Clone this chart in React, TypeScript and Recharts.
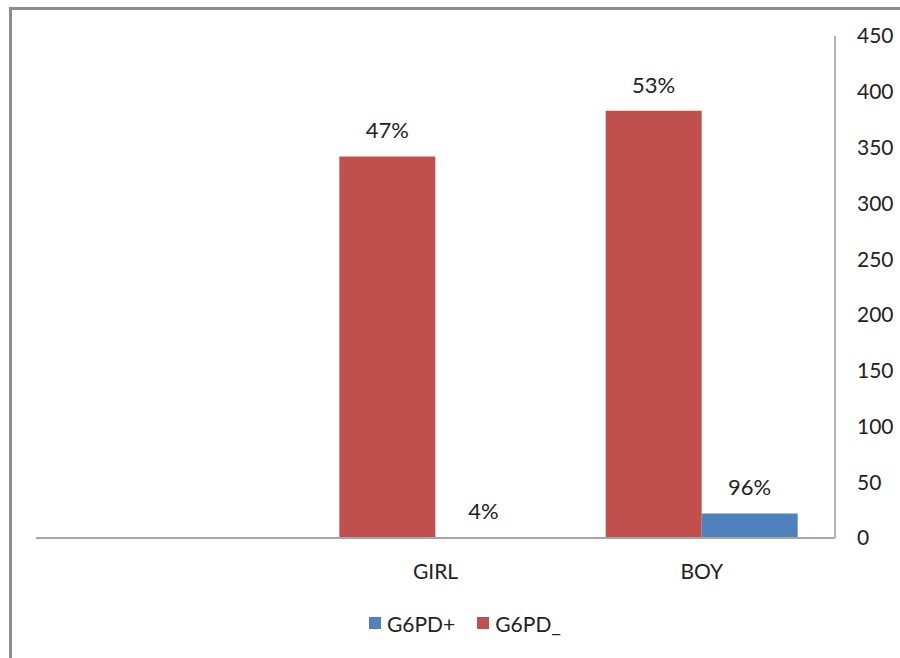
import { BarChart, Bar, XAxis, YAxis, Legend, LabelList } from 'recharts';

const categories = ['', 'GIRL', 'BOY'];
const positive = [null, 1, 22];
const negative = [null, 342, 383];
const positiveLabels = ['', '4%', '96%'];
const negativeLabels = ['', '47%', '53%'];
const yTicks = [0, 50, 100, 150, 200, 250, 300, 350, 400, 450];

const RED = '#c0504d';
const BLUE = '#4f81bd';
const FONT = 'Lato, "Open Sans", sans-serif';

const data = categories.map((name, i) => ({
  name,
  pos: positive[i],
  neg: negative[i],
  posLabel: positiveLabels[i],
  negLabel: negativeLabels[i],
}));

const legendItems = [
  { name: 'G6PD+', color: BLUE },
  { name: 'G6PD_', color: RED },
];

function LegendBox() {
  return (
    <div style={{ display: 'flex', justifyContent: 'center', height: 30, alignItems: 'center', fontFamily: FONT, fontSize: 21, color: '#222', paddingRight: 6 }}>
      {legendItems.map((it, i) => (
        <span key={it.name} style={{ display: 'flex', alignItems: 'center', marginLeft: i ? 22 : 0 }}>
          <span style={{ width: 12, height: 12, background: it.color, display: 'inline-block', marginRight: 6 }} />
          {it.name}
        </span>
      ))}
    </div>
  );
}

export default function App() {
  return (
    <div style={{ position: 'absolute', left: 0, top: 0, width: 900, height: 658, background: '#fff', overflow: 'hidden' }}>
      <div style={{ position: 'absolute', left: 9, top: 7, width: 900, height: 700, borderLeft: '3px solid #8c8c8c', borderTop: '3px solid #8c8c8c', boxSizing: 'border-box' }} />
      <BarChart
        width={900}
        height={658}
        data={data}
        margin={{ top: 36, right: 0, left: 36, bottom: 20 }}
        barCategoryGap={37}
        barGap={0}
        style={{ position: 'absolute', left: 0, top: 0 }}
      >
        <XAxis
          dataKey="name"
          axisLine={{ stroke: '#a6a6a6', strokeWidth: 2 }}
          tickLine={false}
          tickSize={0}
          tickMargin={26}
          height={70}
          tick={{ fontFamily: FONT, fontSize: 21, fill: '#222' }}
        />
        <YAxis
          orientation="right"
          domain={[0, 450]}
          ticks={yTicks}
          width={65}
          axisLine={{ stroke: '#b4b4b4', strokeWidth: 2 }}
          tickLine={false}
          tickSize={0}
          tickMargin={22}
          tick={{ fontFamily: FONT, fontSize: 21, fill: '#222' }}
        />
        <Legend verticalAlign="bottom" content={() => <LegendBox />} />
        <Bar dataKey="neg" fill={RED} isAnimationActive={false}>
          <LabelList dataKey="negLabel" position="top" offset={18} style={{ fontFamily: FONT, fontSize: 22, fill: '#222' }} />
        </Bar>
        <Bar dataKey="pos" fill={BLUE} isAnimationActive={false}>
          <LabelList dataKey="posLabel" position="top" offset={18} style={{ fontFamily: FONT, fontSize: 22, fill: '#222' }} />
        </Bar>
      </BarChart>
    </div>
  );
}
